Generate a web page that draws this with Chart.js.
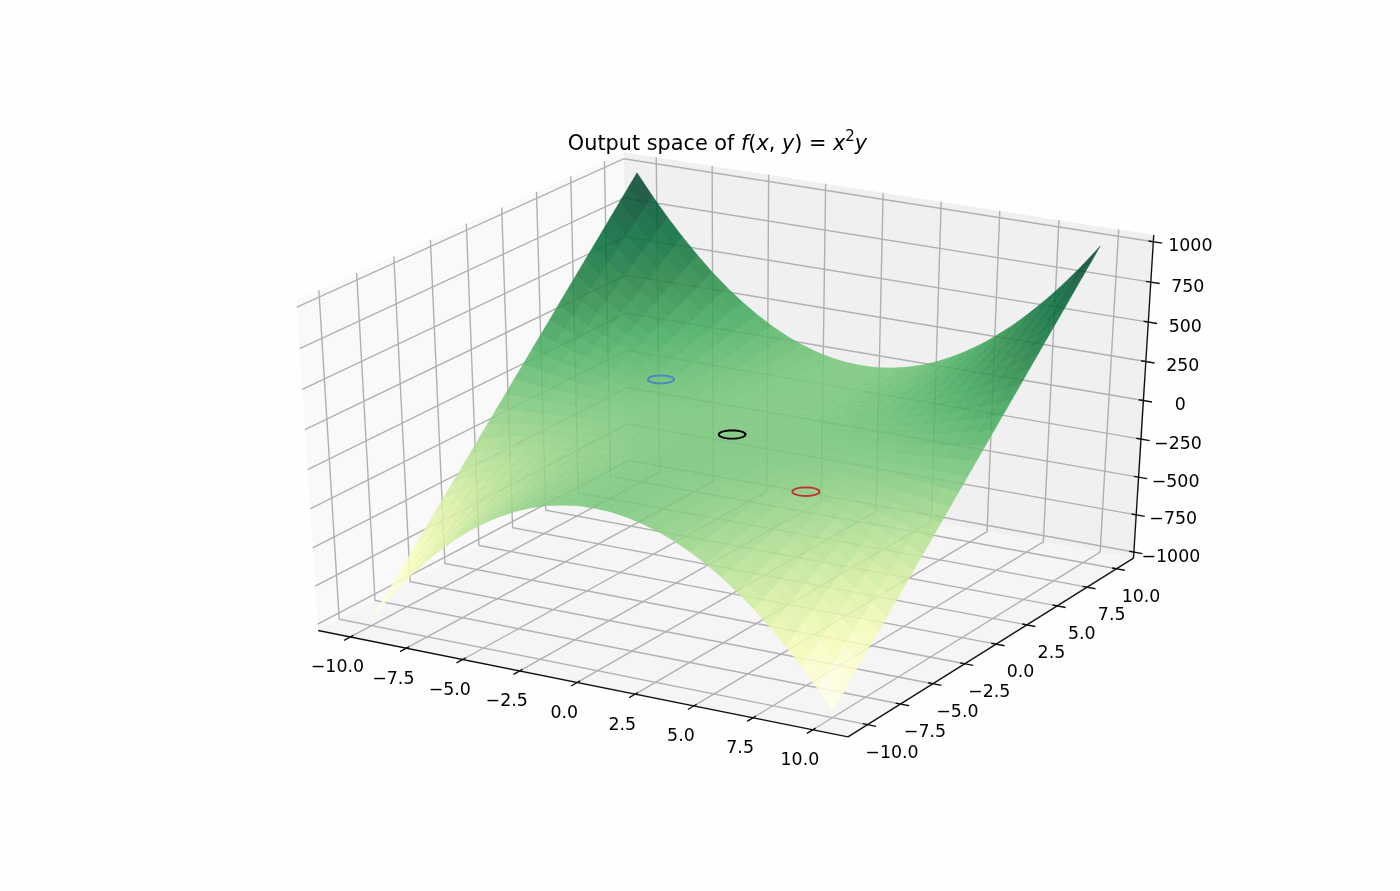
<!DOCTYPE html>
<html>
<head>
<meta charset="utf-8">
<style>html,body{margin:0;padding:0;background:#fefefe}canvas{display:block}</style>
<script src="https://cdn.jsdelivr.net/npm/chart.js@4"></script>
</head>
<body>
<canvas id="c" width="1400" height="891"></canvas>
<script>
// ---- data ----
const xValues = [-10,-9.333,-8.667,-8,-7.333,-6.667,-6,-5.333,-4.667,-4,-3.333,-2.667,-2,-1.333,-0.667,0,0.667,1.333,2,2.667,3.333,4,4.667,5.333,6,6.667,7.333,8,8.667,9.333,10];
const yValues = [-10,-9.333,-8.667,-8,-7.333,-6.667,-6,-5.333,-4.667,-4,-3.333,-2.667,-2,-1.333,-0.667,0,0.667,1.333,2,2.667,3.333,4,4.667,5.333,6,6.667,7.333,8,8.667,9.333,10];
const zRows = [
[-1000,-871,-751,-640,-538,-444,-360,-284,-218,-160,-111,-71,-40,-18,-4,0,-4,-18,-40,-71,-111,-160,-218,-284,-360,-444,-538,-640,-751,-871,-1000],
[-933,-813,-701,-597,-502,-415,-336,-265,-203,-149,-104,-66,-37,-17,-4,0,-4,-17,-37,-66,-104,-149,-203,-265,-336,-415,-502,-597,-701,-813,-933],
[-867,-755,-651,-555,-466,-385,-312,-247,-189,-139,-96,-62,-35,-15,-4,0,-4,-15,-35,-62,-96,-139,-189,-247,-312,-385,-466,-555,-651,-755,-867],
[-800,-697,-601,-512,-430,-356,-288,-228,-174,-128,-89,-57,-32,-14,-4,0,-4,-14,-32,-57,-89,-128,-174,-228,-288,-356,-430,-512,-601,-697,-800],
[-733,-639,-551,-469,-394,-326,-264,-209,-160,-117,-81,-52,-29,-13,-3,0,-3,-13,-29,-52,-81,-117,-160,-209,-264,-326,-394,-469,-551,-639,-733],
[-667,-581,-501,-427,-359,-296,-240,-190,-145,-107,-74,-47,-27,-12,-3,0,-3,-12,-27,-47,-74,-107,-145,-190,-240,-296,-359,-427,-501,-581,-667],
[-600,-523,-451,-384,-323,-267,-216,-171,-131,-96,-67,-43,-24,-11,-3,0,-3,-11,-24,-43,-67,-96,-131,-171,-216,-267,-323,-384,-451,-523,-600],
[-533,-465,-401,-341,-287,-237,-192,-152,-116,-85,-59,-38,-21,-9,-2,0,-2,-9,-21,-38,-59,-85,-116,-152,-192,-237,-287,-341,-401,-465,-533],
[-467,-407,-351,-299,-251,-207,-168,-133,-102,-75,-52,-33,-19,-8,-2,0,-2,-8,-19,-33,-52,-75,-102,-133,-168,-207,-251,-299,-351,-407,-467],
[-400,-348,-300,-256,-215,-178,-144,-114,-87,-64,-44,-28,-16,-7,-2,0,-2,-7,-16,-28,-44,-64,-87,-114,-144,-178,-215,-256,-300,-348,-400],
[-333,-290,-250,-213,-179,-148,-120,-95,-73,-53,-37,-24,-13,-6,-1,0,-1,-6,-13,-24,-37,-53,-73,-95,-120,-148,-179,-213,-250,-290,-333],
[-267,-232,-200,-171,-143,-119,-96,-76,-58,-43,-30,-19,-11,-5,-1,0,-1,-5,-11,-19,-30,-43,-58,-76,-96,-119,-143,-171,-200,-232,-267],
[-200,-174,-150,-128,-108,-89,-72,-57,-44,-32,-22,-14,-8,-4,-1,0,-1,-4,-8,-14,-22,-32,-44,-57,-72,-89,-108,-128,-150,-174,-200],
[-133,-116,-100,-85,-72,-59,-48,-38,-29,-21,-15,-9,-5,-2,-1,0,-1,-2,-5,-9,-15,-21,-29,-38,-48,-59,-72,-85,-100,-116,-133],
[-67,-58,-50,-43,-36,-30,-24,-19,-15,-11,-7,-5,-3,-1,0,0,0,-1,-3,-5,-7,-11,-15,-19,-24,-30,-36,-43,-50,-58,-67],
[0,0,0,0,0,0,0,0,0,0,0,0,0,0,0,0,0,0,0,0,0,0,0,0,0,0,0,0,0,0,0],
[67,58,50,43,36,30,24,19,15,11,7,5,3,1,0,0,0,1,3,5,7,11,15,19,24,30,36,43,50,58,67],
[133,116,100,85,72,59,48,38,29,21,15,9,5,2,1,0,1,2,5,9,15,21,29,38,48,59,72,85,100,116,133],
[200,174,150,128,108,89,72,57,44,32,22,14,8,4,1,0,1,4,8,14,22,32,44,57,72,89,108,128,150,174,200],
[267,232,200,171,143,119,96,76,58,43,30,19,11,5,1,0,1,5,11,19,30,43,58,76,96,119,143,171,200,232,267],
[333,290,250,213,179,148,120,95,73,53,37,24,13,6,1,0,1,6,13,24,37,53,73,95,120,148,179,213,250,290,333],
[400,348,300,256,215,178,144,114,87,64,44,28,16,7,2,0,2,7,16,28,44,64,87,114,144,178,215,256,300,348,400],
[467,407,351,299,251,207,168,133,102,75,52,33,19,8,2,0,2,8,19,33,52,75,102,133,168,207,251,299,351,407,467],
[533,465,401,341,287,237,192,152,116,85,59,38,21,9,2,0,2,9,21,38,59,85,116,152,192,237,287,341,401,465,533],
[600,523,451,384,323,267,216,171,131,96,67,43,24,11,3,0,3,11,24,43,67,96,131,171,216,267,323,384,451,523,600],
[667,581,501,427,359,296,240,190,145,107,74,47,27,12,3,0,3,12,27,47,74,107,145,190,240,296,359,427,501,581,667],
[733,639,551,469,394,326,264,209,160,117,81,52,29,13,3,0,3,13,29,52,81,117,160,209,264,326,394,469,551,639,733],
[800,697,601,512,430,356,288,228,174,128,89,57,32,14,4,0,4,14,32,57,89,128,174,228,288,356,430,512,601,697,800],
[867,755,651,555,466,385,312,247,189,139,96,62,35,15,4,0,4,15,35,62,96,139,189,247,312,385,466,555,651,755,867],
[933,813,701,597,502,415,336,265,203,149,104,66,37,17,4,0,4,17,37,66,104,149,203,265,336,415,502,597,701,813,933],
[1000,871,751,640,538,444,360,284,218,160,111,71,40,18,4,0,4,18,40,71,111,160,218,284,360,444,538,640,751,871,1000]
];
const xTicks = [-10,-7.5,-5,-2.5,0,2.5,5,7.5,10];
const yTicks = [-10,-7.5,-5,-2.5,0,2.5,5,7.5,10];
const zTicks = [-1000,-750,-500,-250,0,250,500,750,1000];
const xTickLabels = ['−10.0','−7.5','−5.0','−2.5','0.0','2.5','5.0','7.5','10.0'];
const yTickLabels = ['−10.0','−7.5','−5.0','−2.5','0.0','2.5','5.0','7.5','10.0'];
const zTickLabels = ['−1000','−750','−500','−250','0','250','500','750','1000'];
const xLimits = [-11.458,11.458];
const yLimits = [-11.458,11.458];
const zLimits = [-1041.67,1041.67];
const ringCentersX = [-5,0,5];
const ringCentersY = [3.23,0,-3.23];
const ringCentersZ = [80,0,-80];
const ringColors = ['#4a87ba','#000000','#c0352b'];
const ringOffsetsX = [0.5,0.483,0.433,0.354,0.25,0.129,0,-0.129,-0.25,-0.354,-0.433,-0.483,-0.5,-0.483,-0.433,-0.354,-0.25,-0.129,0,0.129,0.25,0.354,0.433,0.483,0.5];
const ringOffsetsY = [0,0.129,0.25,0.354,0.433,0.483,0.5,0.483,0.433,0.354,0.25,0.129,0,-0.129,-0.25,-0.354,-0.433,-0.483,-0.5,-0.483,-0.433,-0.354,-0.25,-0.129,0];
const ylgnStops = [[255,255,229],[247,252,185],[217,240,163],[173,221,142],[120,198,121],[65,171,93],[35,132,67],[0,104,55],[0,69,41]];

// ---- camera (elevation 30, azimuth -60, distance 10) ----
const camU = [0.8660254,0.5,0];
const camV = [-0.25,0.4330127,0.8660254];
const camN = [0.4330127,-0.75,0.5];
const camDist = 10;
const norm3 = (x,y,z)=>[
  (x-xLimits[0])/(xLimits[1]-xLimits[0])-0.5,
  (y-yLimits[0])/(yLimits[1]-yLimits[0])-0.5,
  (z-zLimits[0])/(zLimits[1]-zLimits[0])-0.5];
const dot=(a,b)=>a[0]*b[0]+a[1]*b[1]+a[2]*b[2];
function proj(x,y,z){
  const d=norm3(x,y,z), w=camDist-dot(camN,d);
  return {x:dot(camU,d)/w,y:dot(camV,d)/w};
}
const depth=(x,y,z)=>camDist-dot(camN,norm3(x,y,z));

// screen fit: these bounds fill the 1400x891 canvas
const sx=6117, sy=3770, ox=732.1, oy=434.5;
const viewX=[(0-ox)/sx,(1400-ox)/sx];
const viewY=[(oy-891)/sy,(oy-0)/sy];

// ---- build datasets in painter's order ----
const datasets=[];
function add(points,opts){
  datasets.push(Object.assign({
    data:points, showLine:true, pointRadius:0, pointHoverRadius:0, tension:0, fill:false,
    borderWidth:0, borderColor:'rgba(0,0,0,0)', backgroundColor:'rgba(0,0,0,0)', order:-datasets.length
  },opts));
}
const [x0,x1]=xLimits,[y0,y1]=yLimits,[z0,z1]=zLimits;
const pane=(pts,c)=>add(pts.map(p=>proj(...p)).concat([proj(...pts[0])]),{fill:'shape',backgroundColor:c});
pane([[x0,y0,z0],[x0,y1,z0],[x0,y1,z1],[x0,y0,z1]],'rgb(249,249,249)');
pane([[x0,y1,z0],[x1,y1,z0],[x1,y1,z1],[x0,y1,z1]],'rgb(240,240,240)');
pane([[x0,y0,z0],[x1,y0,z0],[x1,y1,z0],[x0,y1,z0]],'rgb(245,245,245)');
const gridStyle={borderColor:'rgb(176,176,176)',borderWidth:1.4};
xTicks.forEach(t=>add([proj(t,y0,z0),proj(t,y1,z0),proj(t,y1,z1)],gridStyle));
yTicks.forEach(t=>add([proj(x1,t,z0),proj(x0,t,z0),proj(x0,t,z1)],gridStyle));
zTicks.forEach(t=>add([proj(x0,y0,t),proj(x0,y1,t),proj(x1,y1,t)],gridStyle));

// surface
function cmap(t){
  t=Math.max(0,Math.min(1,t))*(ylgnStops.length-1);
  const i=Math.min(Math.floor(t),ylgnStops.length-2),f=t-i;
  return ylgnStops[i].map((c,k)=>Math.round(c+(ylgnStops[i+1][k]-c)*f));
}
const quads=[];
for(let j=0;j<yValues.length-1;j++)for(let i=0;i<xValues.length-1;i++){
  const c=[[xValues[i],yValues[j],zRows[j][i]],[xValues[i+1],yValues[j],zRows[j][i+1]],
           [xValues[i+1],yValues[j+1],zRows[j+1][i+1]],[xValues[i],yValues[j+1],zRows[j+1][i]]];
  const mean=c.reduce((s,p)=>s+p[2],0)/4;
  const dep=c.reduce((s,p)=>s+depth(...p),0)/4;
  quads.push({c,mean,dep});
}
const zs=quads.map(q=>q.mean),zMin=Math.min(...zs),zMax=Math.max(...zs);
quads.sort((a,b)=>b.dep-a.dep);
quads.forEach(q=>{
  const rgb=cmap((q.mean-zMin)/(zMax-zMin)).join(',');
  const col=`rgba(${rgb},0.85)`;
  add(q.c.map(p=>proj(...p)).concat([proj(...q.c[0])]),{fill:'shape',backgroundColor:col,borderColor:col,borderWidth:0.35});
});

// rings
ringCentersX.forEach((cx,k)=>{
  add(ringOffsetsX.map((dx,i)=>proj(cx+dx,ringCentersY[k]+ringOffsetsY[i],ringCentersZ[k])),
      {borderColor:ringColors[k],borderWidth:1.9});
});

// axis lines and ticks
const axisStyle={borderColor:'#111',borderWidth:1.4};
add([proj(x0,y0,z0),proj(x1,y0,z0)],axisStyle);
add([proj(x1,y0,z0),proj(x1,y1,z0)],axisStyle);
add([proj(x1,y1,z0),proj(x1,y1,z1)],axisStyle);
xTicks.forEach(t=>add([proj(t,y0+0.2,z0),proj(t,y0-0.44,z0)],axisStyle));
yTicks.forEach(t=>add([proj(x1-0.2,t,z0),proj(x1+0.36,t,z0)],axisStyle));
zTicks.forEach(t=>add([proj(x1-0.2,y1,t),proj(x1+0.37,y1,t)],axisStyle));

// ---- text ----
const textPlugin={id:'axisText',afterDatasetsDraw(chart){
  const ctx=chart.ctx,sX=chart.scales.x,sY=chart.scales.y;
  const put=(p,txt,dx,dy)=>ctx.fillText(txt,sX.getPixelForValue(p.x)+dx,sY.getPixelForValue(p.y)+dy);
  ctx.save();
  ctx.fillStyle='#000';
  ctx.font='17.4px "DejaVu Sans"';
  ctx.textAlign='center';ctx.textBaseline='middle';
  xTicks.forEach((t,i)=>put(proj(t,y0,z0),xTickLabels[i],-13,31));
  yTicks.forEach((t,i)=>put(proj(x1,t,z0),yTickLabels[i],24.5,28.5));
  zTicks.forEach((t,i)=>put(proj(x1,y1,t),zTickLabels[i],37,5));
  // title with mathtext-style runs
  const R='20.8px "DejaVu Sans"',I='italic 20.8px "DejaVu Sans"';
  const runs=[['Output space of ',R,0],['f',I,0],['(',R,0],['x',I,0],[', ',R,0],['y',I,0],[') = ',R,0],['x',I,0],['2','15px "DejaVu Sans"',-9],['y',I,0]];
  ctx.textAlign='left';ctx.textBaseline='alphabetic';
  let w=0;runs.forEach(r=>{ctx.font=r[1];w+=ctx.measureText(r[0]).width;});
  let tx=717.5-w/2;
  runs.forEach(r=>{ctx.font=r[1];ctx.fillText(r[0],tx,150+r[2]);tx+=ctx.measureText(r[0]).width;});
  ctx.restore();
}};

new Chart(document.getElementById('c'),{
  type:'scatter',
  data:{datasets},
  options:{
    responsive:false,animation:false,events:[],
    layout:{padding:0},
    plugins:{legend:{display:false},tooltip:{enabled:false},title:{display:false}},
    scales:{
      x:{type:'linear',display:false,min:viewX[0],max:viewX[1]},
      y:{type:'linear',display:false,min:viewY[0],max:viewY[1]}
    }
  },
  plugins:[textPlugin]
});
</script>
</body>
</html>
